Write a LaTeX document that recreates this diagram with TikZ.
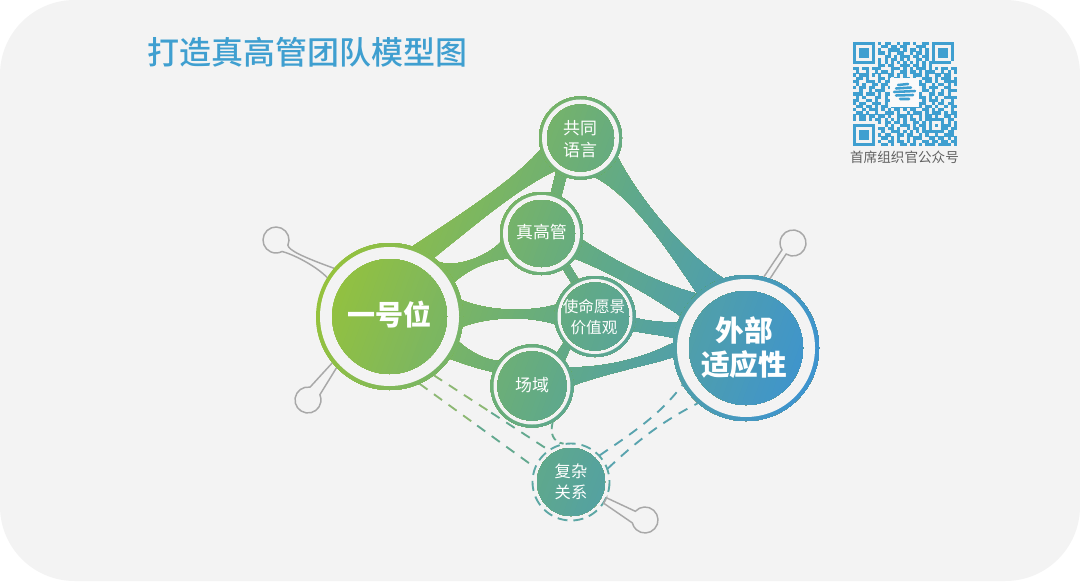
\documentclass[tikz,border=0pt]{standalone}
\usepackage{fontspec}
\usetikzlibrary{calc}
\newfontfamily\cjk{Noto Sans CJK SC}
\newfontfamily\cjkm{Noto Sans CJK SC Medium}
\definecolor{bgc}{HTML}{F3F3F3}
\definecolor{gA}{HTML}{95C23D}
\definecolor{gB}{HTML}{62AA86}
\definecolor{gC}{HTML}{3E94CE}
\definecolor{qrc}{HTML}{3F9FD0}
\definecolor{pinc}{HTML}{A8A8A8}
\definecolor{dA}{HTML}{8DB874}
\definecolor{dB}{HTML}{63A98F}
\definecolor{dC}{HTML}{5CA7A4}
\definecolor{dD}{HTML}{58A3AE}
\tikzset{
  hub/.style={circle,minimum size={#1*1.5pt},inner sep=0pt,outer sep=0pt},
  lab/.style={text=white,align=center,inner sep=0pt},
  pinline/.style={draw=pinc,fill=bgc,line width=1.1pt},
  dashA/.style={draw=#1,line width=1.4pt,dash pattern=on 7.5pt off 6pt},
}
\newcount\qx
\newcount\qy
\def\qrscan#1{\ifx#1;\else\if#1x\fill[qrc] ({853+3.15*\the\qx},{42+3.15*\the\qy}) rectangle ++(3.25,3.25);\fi\advance\qx by 1 \expandafter\qrscan\fi}
\def\qrrow#1{\qx=0 \qrscan#1;\advance\qy by 1 }
% gradient as overlapping strips along an axis tilted 20 degrees downward
\def\netfill{%
  \fill[gA] (0,0) rectangle (1080,581);
  \foreach \i in {0,...,96}{%
    \pgfmathsetmacro\s{-240+5*\i}%
    \pgfmathtruncatemacro\pa{\i<=48 ? 100-100*\i/48 : 100-100*(\i-48)/48}%
    \ifnum\i<49 \colorlet{strip}{gA!\pa!gB}\else\colorlet{strip}{gB!\pa!gC}\fi
    \fill[strip,rotate around={-20:(570,320)}] ({570+\s},-500) rectangle (1600,1200);
  }%
}
\begin{document}
\begin{tikzpicture}[x=0.75pt,y=-0.75pt]
\useasboundingbox (0,0) rectangle (1080,581);
\fill[white] (0,0) rectangle (1080,581);
\fill[bgc,rounded corners=56pt] (0,0) rectangle (1080,581);
% hubs (named)
\node[hub=73.5] (yi) at (389.5,316.5) {};
\node[hub=73] (wai) at (746,348) {};
\node[hub=41.5] (gt) at (580.5,138) {};
\node[hub=41.5] (zg) at (541.5,233.5) {};
\node[hub=40.5] (sm) at (595,316.5) {};
\node[hub=41.5] (cy) at (532,386) {};
\node[hub=39] (fz) at (571,482) {};
\node[hub=13] (p1) at (276,240) {};
\node[hub=13] (p2) at (308,400) {};
\node[hub=13] (p3) at (793,243) {};
\node[hub=13] (p4) at (645,520) {};
% pins
\path[pinline] (yi.139) .. controls (300,256) and (289,250) .. (p1.-24) arc[start angle=24,end angle=-298,radius=13] .. controls (292,254) and (315,265) .. (yi.148);
\path[pinline] (yi.219) -- (p2.81) arc[start angle=-81,end angle=-384,radius=13] -- (yi.224);
\path[pinline] (wai.71) -- (p3.238) arc[start angle=-238,end angle=-572,radius=13] -- (wai.76);
% dashed links
\draw[dashA=dA] (yi.-53) -- ($(yi.-53)!.5!(fz.125)$);
\draw[dashA=dB] ($(yi.-53)!.5!(fz.125)$) -- (fz.125);
\draw[dashA=dA] (yi.-66) -- ($(yi.-66)!.5!(fz.158)$);
\draw[dashA=dB] ($(yi.-66)!.5!(fz.158)$) -- (fz.158);
\draw[draw=dB,line width=1.4pt,dash pattern=on 5.5pt off 3.5pt] (cy.-60) .. controls (550,432) and (552,442) .. (fz.101);
\draw[dashA=dD] (fz.43) .. controls (640,428) and (662,412) .. (wai.210);
\draw[dashA=dD] (fz.20) .. controls (640,438) and (665,420) .. (wai.229);
% tapered links
\begin{scope}
\clip
 (yi.72) .. controls (455,218) and (515,180) .. (gt.196) -- (gt.232) .. controls (515,190) and (475,225) .. (yi.53) -- cycle
 (gt.234) -- (zg.77) -- (zg.62) -- (gt.250) -- cycle
 (gt.-27) .. controls (637,195) and (680,250) .. (wai.108) -- (wai.132) .. controls (665,245) and (630,195) .. (gt.-70) -- cycle
 (zg.-9) .. controls (610,258) and (655,283) .. (wai.132) -- (wai.154) .. controls (650,295) and (610,272) .. (zg.-37) -- cycle
 (zg.-59) -- (sm.125) -- (sm.114) -- (zg.-48) -- cycle
 (yi.48) .. controls (455,268) and (485,258) .. (zg.192) -- (zg.217) .. controls (490,260) and (470,268) .. (yi.28) -- cycle
 (yi.13) .. controls (490,312) and (530,312) .. (sm.163) -- (sm.191) .. controls (530,316) and (490,316) .. (yi.-8) -- cycle
 (sm.-2) .. controls (650,322) and (665,322) .. (wai.160) -- (wai.172) .. controls (660,335) and (645,333) .. (sm.-21) -- cycle
 (sm.220) -- (cy.53) -- (cy.38) -- (sm.232) -- cycle
 (yi.-20) .. controls (470,352) and (485,360) .. (cy.143) -- (cy.160) .. controls (475,368) and (462,363) .. (yi.-35) -- cycle
 (cy.27) .. controls (600,368) and (640,360) .. (wai.176) -- (wai.187) .. controls (650,365) and (610,372) .. (cy.1) -- cycle;
\netfill
\end{scope}
% outer rings
\begin{scope}
\clip (yi) circle[radius=73.5] (wai) circle[radius=73] (gt) circle[radius=41.5] (zg) circle[radius=41.5] (sm) circle[radius=40.5] (cy) circle[radius=41.5];
\netfill
\end{scope}
\fill[bgc] (yi) circle[radius=69.5] (wai) circle[radius=69] (gt) circle[radius=38.5] (zg) circle[radius=38.5] (sm) circle[radius=37.5] (cy) circle[radius=38.5];
% dashed ring and pin 4
\draw[draw=dC,line width=1.4pt,dash pattern=on 7.5pt off 4.5pt] (fz) circle[radius=38.5];
\path[pinline] (fz) -- (fz.-24) -- (p4.138) arc[start angle=-138,end angle=167,radius=13] -- (fz.-33) -- cycle;
% inner discs
\begin{scope}
\clip (yi) circle[radius=57.5] (wai) circle[radius=57] (gt) circle[radius=33.5] (zg) circle[radius=33.5] (sm) circle[radius=34] (cy) circle[radius=34.5] (fz) circle[radius=34];
\netfill
\end{scope}
% labels
\node[lab,font=\cjk\bfseries\fontsize{21}{25}\selectfont] (t1) at (389,315) {一号位};
\node[lab,font=\cjk\bfseries\fontsize{21.5}{25.5}\selectfont] (t2) at (744,348) {外部\\适应性};
\node[lab,font=\cjk\fontsize{12.7}{16}\selectfont] (t3) at (580,139) {共同\\语言};
\node[lab,font=\cjk\fontsize{12.7}{16}\selectfont] (t4) at (541.5,232) {真高管};
\node[lab,font=\cjk\fontsize{11.7}{16}\selectfont] (t5) at (594,317) {使命愿景\\价值观};
\node[lab,font=\cjk\fontsize{12.7}{16}\selectfont] (t6) at (532,385) {场域};
\node[lab,font=\cjk\fontsize{12.2}{16}\selectfont] (t7) at (571,482) {复杂\\关系};
\node[text=qrc,inner sep=0pt,font=\cjkm\fontsize{24}{28}\selectfont] (title) at (307,52) {打造真高管团队模型图};
\node[text=black!62,inner sep=0pt,font=\cjk\fontsize{10.2}{12}\selectfont] (qrt) at (904.5,157) {首席组织官公众号};
% QR
\qy=0
\qrrow{xxxxxxx.x.xx..x.xx.x..xx.xxxxxxx}
\qrrow{x.....x..xx.xx.xx...xxx..x.....x}
\qrrow{x.xxx.x.x..xxxx.x.xx.x.x.x.xxx.x}
\qrrow{x.xxx.x.xx.x..xx..x.xx.x.x.xxx.x}
\qrrow{x.xxx.x...xx.x.xxx.xx.xx.x.xxx.x}
\qrrow{x.....x.x.x.xx.x.x..xx.x.x.....x}
\qrrow{xxxxxxx.x.x.x.x.x.x.x.x.xxxxxxx}
\qrrow{........xx.xx..xxx.xx.x.x........}
\qrrow{xx.xx.xxx...xxx.x.x.xxx.x.x.xx.xx}
\qrrow{.x..x..x.xx.x..xx.xx.x.xxx..x.x.x}
\qrrow{x.xxx.x.x..xx.x.x..xxx.x..xx.xx..}
\qrrow{.xx.x...xx.x.xx.xx.x..xxx.x.xxx.x}
\qrrow{xx..xxx.x.xxxxxxxxxxxx.xx.x..xxxx}
\qrrow{.x.x..xx.xx.xxxxxxxxxxx..x.xx.x.x}
\qrrow{x.xx.xx..x.xxxxxxxxxx.x.xxx..xx.}
\qrrow{..x..x.xxx..xxxxxxxxx.xx.x..x.xxx}
\qrrow{xxx.xxx.x.xxxxxxxxxxxx..xx.xx.x..}
\qrrow{.x.x...xx.x.xxxxxxxxxxx.x.x..xxxx}
\qrrow{xx..xx.x..xxxxxxxxxxx.x.xxx.x..x.}
\qrrow{x.xx..xxx.x.xxxxxxxxxxx..x.xx.xx.}
\qrrow{.xx.xx.x.xx.xxxxxxxxxx.xx.x..x.xx}
\qrrow{x..x.xxx.x.x.xx.x.xx..xx.x.xx..x.}
\qrrow{.xx.x..x..xxx.x..x.xxx.x.xxx.x.xx}
\qrrow{x.xx.xx.xx.x..xxx.x..x.xx.x..xx.x}
\qrrow{x.xx.x.xx.x.x.x.x.xx.x.xxxxxx.xx.}
\qrrow{........x.xx.xx.x..xx.x.x...x.x.x}
\qrrow{xxxxxxx...x.x..xxx.x.xx.x.x.xxx.x}
\qrrow{x.....x.xx.xx.x..x.xx.x.x...xx.xx}
\qrrow{x.xxx.x..x..xxx.x.x.x.xxxxxxx.xx.}
\qrrow{x.xxx.x.x.xx..xx.xx..x.x..x..xxx.}
\qrrow{x.xxx.x..xx.x.x..x.xxx..xx.xx.x.x}
\qrrow{x.....x.x..xx.xx.x.x..xx.xx.xx.xx}
\qrrow{xxxxxxx..xx.x..xx.xx.x.xxx.xxxx.x}
\fill[bgc!40!white] (890,78) rectangle (919,107);
\draw[qrc,line width=1.9pt,line cap=round] (898,85) -- (908,84) (896,88.5) -- (911,87.5) (894,92) -- (915,91) (896,95.5) -- (913,95) (900,99) -- (909,99);
\end{tikzpicture}
\end{document}
